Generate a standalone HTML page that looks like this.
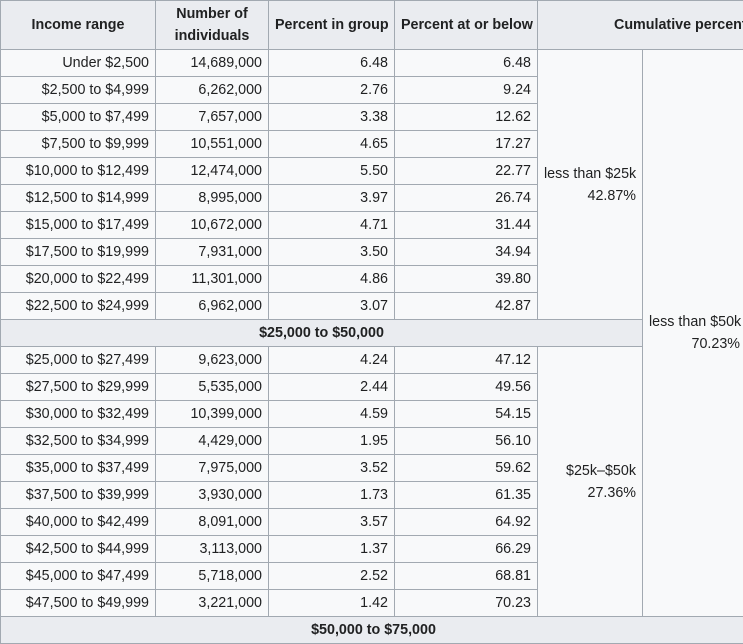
<!DOCTYPE html>
<html><head><meta charset="utf-8">
<style>
html,body{margin:0;padding:0;width:743px;height:644px;overflow:hidden;background:#fff}
table{border-collapse:collapse;table-layout:fixed;width:746px;font-family:"Liberation Sans",Arial,sans-serif;font-size:14.3px;color:#202122;background:#f8f9fa}
td,th{border:1px solid #a2a9b1;padding:0 6px;height:26px;line-height:22px;text-align:right;white-space:nowrap;overflow:hidden}
th{background:#eaecf0;font-weight:bold;text-align:center;height:48px}
tr.sec td{background:#eaecf0;font-weight:bold;text-align:center}
td.cum{vertical-align:middle;text-align:right;padding-right:6px}
</style></head><body>
<table>
<colgroup><col style="width:155px"><col style="width:113px"><col style="width:126px"><col style="width:143px"><col style="width:105px"><col style="width:104px"></colgroup>
<tr>
<th>Income range</th>
<th>Number of<br>individuals</th>
<th>Percent in group</th>
<th>Percent at or below</th>
<th colspan="2" style="text-align:left;padding-left:76px">Cumulative percent</th>
</tr>
<tr><td>Under $2,500</td><td>14,689,000</td><td>6.48</td><td>6.48</td>
<td class="cum" rowspan="10">less than $25k<br>42.87%</td>
<td class="cum" rowspan="21">less than $50k<br>70.23%</td></tr>
<tr><td>$2,500 to $4,999</td><td>6,262,000</td><td>2.76</td><td>9.24</td></tr>
<tr><td>$5,000 to $7,499</td><td>7,657,000</td><td>3.38</td><td>12.62</td></tr>
<tr><td>$7,500 to $9,999</td><td>10,551,000</td><td>4.65</td><td>17.27</td></tr>
<tr><td>$10,000 to $12,499</td><td>12,474,000</td><td>5.50</td><td>22.77</td></tr>
<tr><td>$12,500 to $14,999</td><td>8,995,000</td><td>3.97</td><td>26.74</td></tr>
<tr><td>$15,000 to $17,499</td><td>10,672,000</td><td>4.71</td><td>31.44</td></tr>
<tr><td>$17,500 to $19,999</td><td>7,931,000</td><td>3.50</td><td>34.94</td></tr>
<tr><td>$20,000 to $22,499</td><td>11,301,000</td><td>4.86</td><td>39.80</td></tr>
<tr><td>$22,500 to $24,999</td><td>6,962,000</td><td>3.07</td><td>42.87</td></tr>
<tr class="sec"><td colspan="5">$25,000 to $50,000</td></tr>
<tr><td>$25,000 to $27,499</td><td>9,623,000</td><td>4.24</td><td>47.12</td>
<td class="cum" rowspan="10">$25k–$50k<br>27.36%</td></tr>
<tr><td>$27,500 to $29,999</td><td>5,535,000</td><td>2.44</td><td>49.56</td></tr>
<tr><td>$30,000 to $32,499</td><td>10,399,000</td><td>4.59</td><td>54.15</td></tr>
<tr><td>$32,500 to $34,999</td><td>4,429,000</td><td>1.95</td><td>56.10</td></tr>
<tr><td>$35,000 to $37,499</td><td>7,975,000</td><td>3.52</td><td>59.62</td></tr>
<tr><td>$37,500 to $39,999</td><td>3,930,000</td><td>1.73</td><td>61.35</td></tr>
<tr><td>$40,000 to $42,499</td><td>8,091,000</td><td>3.57</td><td>64.92</td></tr>
<tr><td>$42,500 to $44,999</td><td>3,113,000</td><td>1.37</td><td>66.29</td></tr>
<tr><td>$45,000 to $47,499</td><td>5,718,000</td><td>2.52</td><td>68.81</td></tr>
<tr><td>$47,500 to $49,999</td><td>3,221,000</td><td>1.42</td><td>70.23</td></tr>
<tr class="sec"><td colspan="6">$50,000 to $75,000</td></tr>
</table>
</body></html>
